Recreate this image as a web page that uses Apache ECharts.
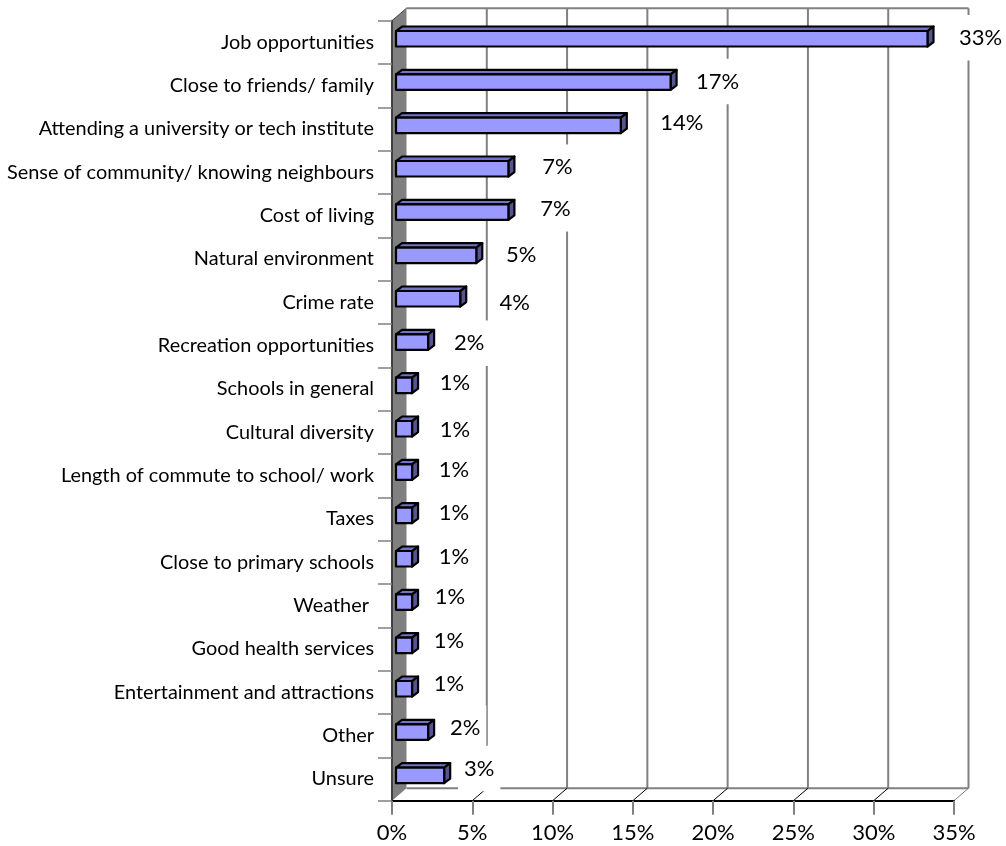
<!DOCTYPE html>
<html>
<head>
<meta charset="utf-8">
<style>html,body{margin:0;padding:0;background:#fff}#c{width:1006px;height:846px}</style>
<script src="https://cdn.jsdelivr.net/npm/echarts@6/dist/echarts.min.js"></script>
</head>
<body>
<div id="c"></div>
<script>
const categories = ['Job opportunities','Close to friends/ family','Attending a university or tech institute','Sense of community/ knowing neighbours','Cost of living','Natural environment','Crime rate','Recreation opportunities','Schools in general','Cultural diversity','Length of commute to school/ work','Taxes','Close to primary schools','Weather ','Good health services','Entertainment and attractions','Other','Unsure'];
const values = [33.1,17.1,14,7,7,5,4,2,1,1,1,1,1,1,1,1,2,3];
const xTicks = [0,5,10,15,20,25,30,35];

// Layout only: the hand-placed drift of each data label away from its bar end
const labelDx = [53,47,61,49,47,45,54.5,41,43,43,42,42,42,38,37,37,37,35];
const labelDy = [-5.4,-5,-6.4,-5.8,-7.6,-5.2,0,-3.3,-6.6,-3.7,-6.7,-6.7,-6,-9.4,-8.8,-8.9,-8.2,-11.3];

const FONT = 'Lato, "Open Sans", sans-serif';
const FS_CAT = 19.9, FS_NUM = 22;
const GRAY = '#808080';
const WALL_DX = 14.5, WALL_DY = 12.5;
const BAR_DX = 4, BAR_DY = 3.6, BAR_H = 15.5, DEPTH_X = 6, DEPTH_Y = 4.5;

const chart = echarts.init(document.getElementById('c'), null, {renderer:'canvas'});

function renderFrame(params, api) {
  const cs = params.coordSys;
  const left = cs.x, top = cs.y, bottom = cs.y + cs.height, right = cs.x + cs.width;
  const tick = api.value(0);
  const x = api.coord([tick, 0])[0];
  const children = [];
  if (tick === 0) {
    children.push({type:'polygon', shape:{points:[[left,top],[left+WALL_DX,top-WALL_DY],[left+WALL_DX,bottom-WALL_DY],[left,bottom]]}, style:{fill:GRAY, stroke:null}});
    children.push({type:'line', shape:{x1:left+WALL_DX,y1:top-WALL_DY,x2:right+WALL_DX,y2:top-WALL_DY}, style:{stroke:GRAY,lineWidth:2}});
    children.push({type:'line', shape:{x1:left+WALL_DX,y1:bottom-WALL_DY,x2:right+WALL_DX,y2:bottom-WALL_DY}, style:{stroke:GRAY,lineWidth:2}});
    children.push({type:'line', shape:{x1:left,y1:top,x2:left+WALL_DX,y2:top-WALL_DY}, style:{stroke:'#404040',lineWidth:1}});
  } else {
    children.push({type:'line', shape:{x1:x+WALL_DX,y1:top-WALL_DY,x2:x+WALL_DX,y2:bottom-WALL_DY}, style:{stroke:GRAY,lineWidth:2}});
    children.push({type:'line', shape:{x1:x,y1:bottom,x2:x+WALL_DX,y2:bottom-WALL_DY}, style:{stroke:tick===35?GRAY:'#000',lineWidth:1}});
  }
  return {type:'group', children};
}

function renderLabel(params, api) {
  const v = api.value(0), i = api.value(1);
  const p = api.coord([v, i]);
  return {
    type:'text',
    style:{
      x:p[0] + BAR_DX + labelDx[i],
      y:p[1] + labelDy[i] + 0.75,
      text:Math.round(v) + '%',
      fill:'#000', fontSize:FS_NUM, fontFamily:FONT,
      align:'center', verticalAlign:'middle',
      backgroundColor:'#fff', padding:[10,6,13.5,6]
    }
  };
}

function renderBar(params, api) {
  const v = api.value(0), i = api.value(1);
  const p0 = api.coord([0, i]), p1 = api.coord([v, i]);
  const xa = p0[0] + BAR_DX, xb = p1[0] + BAR_DX;
  const yc = p0[1] - BAR_DY;
  const ya = yc - BAR_H/2, yb = yc + BAR_H/2;
  const line = {stroke:'#000', lineWidth:2.2, lineJoin:'round'};
  return {type:'group', children:[
    {type:'polygon', shape:{points:[[xa,ya],[xa+DEPTH_X,ya-DEPTH_Y],[xb+DEPTH_X,ya-DEPTH_Y],[xb,ya]]}, style:Object.assign({fill:'#7272C6'},line)},
    {type:'polygon', shape:{points:[[xb,ya],[xb+DEPTH_X,ya-DEPTH_Y],[xb+DEPTH_X,yb-DEPTH_Y],[xb,yb]]}, style:Object.assign({fill:'#555590'},line)},
    {type:'rect', shape:{x:xa,y:ya,width:xb-xa,height:yb-ya}, style:Object.assign({fill:'#9999FF'},line)}
  ]};
}

const rows = values.map((v,i)=>[v,i]);

chart.setOption({
  animation:false,
  backgroundColor:'#fff',
  grid:{left:392, right:52, top:20.7, bottom:45.3, containLabel:false},
  xAxis:{
    type:'value', min:0, max:35, interval:5, z:10,
    axisLine:{show:true, lineStyle:{color:'#000',width:2}},
    axisTick:{show:true, length:14, lineStyle:{color:GRAY,width:2}},
    splitLine:{show:false},
    axisLabel:{formatter:'{value}%', margin:21, fontSize:FS_NUM, fontFamily:FONT, color:'#000', hideOverlap:false, showMinLabel:true, showMaxLabel:true}
  },
  yAxis:{
    type:'category', data:categories, inverse:true, z:10,
    axisLine:{show:true, lineStyle:{color:'#404040',width:2}},
    axisTick:{show:true, length:14, alignWithLabel:false, lineStyle:{color:GRAY,width:1.5}},
    splitLine:{show:false},
    axisLabel:{interval:0, margin:18, fontSize:FS_CAT, fontFamily:FONT, color:'#000'}
  },
  series:[
    {type:'custom', name:'frame', z:1, silent:true, coordinateSystem:'cartesian2d', data:xTicks.map(t=>[t,0]), encode:{x:0,y:1}, renderItem:renderFrame},
    {type:'custom', name:'labels', z:2, silent:true, coordinateSystem:'cartesian2d', data:rows, encode:{x:0,y:1}, renderItem:renderLabel},
    {type:'custom', name:'bars', z:3, silent:true, coordinateSystem:'cartesian2d', data:rows, encode:{x:0,y:1}, renderItem:renderBar}
  ]
});
</script>
</body>
</html>
